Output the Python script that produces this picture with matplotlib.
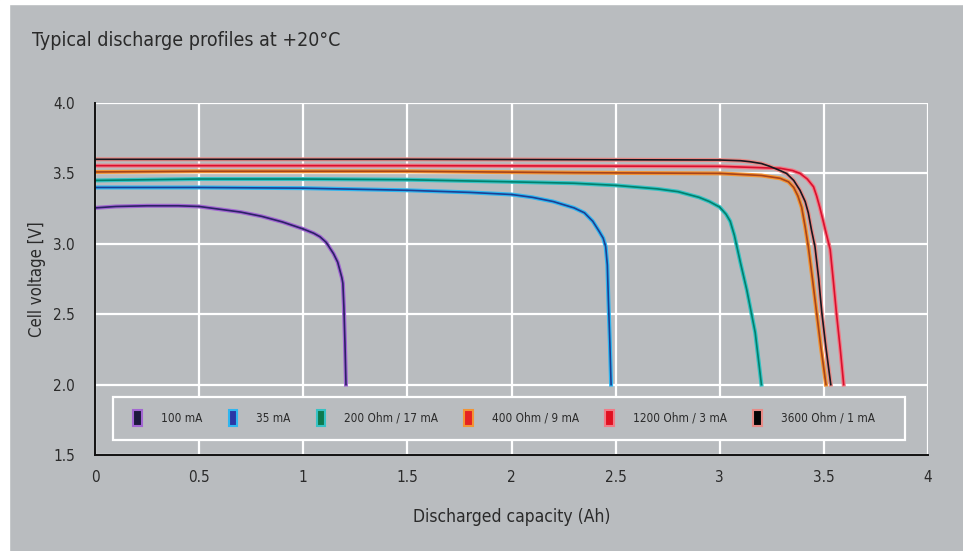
import numpy as np
import matplotlib
matplotlib.use("Agg")
import matplotlib.pyplot as plt
from matplotlib.patches import Rectangle

## discharge curves (capacity in Ah, voltage in V)
cap_100mA = [0, 0.1, 0.25, 0.4, 0.5, 0.6, 0.7, 0.8, 0.9, 1.0, 1.05, 1.08, 1.11, 1.145,
             1.165, 1.176, 1.185, 1.19, 1.195, 1.2, 1.205]
volt_100mA = [3.255, 3.265, 3.27, 3.27, 3.265, 3.245, 3.225, 3.195, 3.155, 3.105, 3.075,
              3.05, 3.01, 2.93, 2.87, 2.81, 2.76, 2.72, 2.55, 2.30, 2.00]

cap_35mA = [0, 0.5, 1.0, 1.5, 1.8, 2.0, 2.1, 2.2, 2.3, 2.35, 2.39, 2.42, 2.44, 2.452,
            2.46, 2.465, 2.472, 2.478]
volt_35mA = [3.40, 3.40, 3.395, 3.38, 3.365, 3.35, 3.33, 3.30, 3.255, 3.22, 3.16, 3.09,
             3.04, 2.98, 2.85, 2.60, 2.30, 2.00]

cap_200ohm = [0, 0.5, 1.0, 1.5, 2.0, 2.3, 2.5, 2.7, 2.8, 2.9, 2.95, 3.0, 3.03, 3.05,
              3.07, 3.1, 3.13, 3.17, 3.20]
volt_200ohm = [3.45, 3.46, 3.46, 3.455, 3.44, 3.43, 3.415, 3.39, 3.37, 3.33, 3.30, 3.26,
               3.21, 3.16, 3.06, 2.86, 2.67, 2.37, 2.00]

cap_400ohm = [0, 0.5, 1.5, 2.3, 3.0, 3.2, 3.29, 3.33, 3.355, 3.375, 3.393, 3.41, 3.425,
              3.445, 3.465, 3.485, 3.51]
volt_400ohm = [3.51, 3.515, 3.515, 3.505, 3.50, 3.485, 3.465, 3.44, 3.40, 3.34, 3.26,
               3.12, 2.98, 2.75, 2.51, 2.27, 2.00]

cap_1200ohm = [0, 1.5, 3.0, 3.29, 3.35, 3.385, 3.42, 3.45, 3.465, 3.48, 3.505, 3.53,
               3.545, 3.56, 3.578, 3.595]
volt_1200ohm = [3.555, 3.555, 3.55, 3.536, 3.52, 3.50, 3.46, 3.405, 3.34, 3.26, 3.11,
                2.96, 2.74, 2.51, 2.26, 2.00]

cap_3600ohm = [0, 1.5, 3.0, 3.1, 3.145, 3.2, 3.24, 3.29, 3.32, 3.355, 3.385, 3.41, 3.425,
               3.44, 3.457, 3.475, 3.49, 3.51, 3.533]
volt_3600ohm = [3.60, 3.60, 3.595, 3.59, 3.583, 3.57, 3.55, 3.52, 3.50, 3.45, 3.38, 3.30,
                3.22, 3.10, 2.98, 2.75, 2.51, 2.26, 2.00]

labels = ["100 mA", "35 mA", "200 Ohm / 17 mA", "400 Ohm / 9 mA", "1200 Ohm / 3 mA", "3600 Ohm / 1 mA"]
caps = [cap_100mA, cap_35mA, cap_200ohm, cap_400ohm, cap_1200ohm, cap_3600ohm]
volts = [volt_100mA, volt_35mA, volt_200ohm, volt_400ohm, volt_1200ohm, volt_3600ohm]

core_colors = ["#2b2166", "#1c3f93", "#00806c", "#a8441a", "#d8102e", "#17171f"]
glow_colors = ["#a266d2", "#2fb6f0", "#36c2c4", "#f39434", "#f27a86", "#e88a86"]
legend_fill = ["#1d1a3e", "#2a37a6", "#0d7a4e", "#e52222", "#e01020", "#050505"]

bg = "#b9bcbf"
txt = "#2a2a2a"

plt.rcParams["font.family"] = ["DejaVu Sans"]
plt.rcParams["font.stretch"] = "condensed"

fig = plt.figure(figsize=(9.63, 5.51), dpi=100, facecolor=bg)
ax = fig.add_axes([0.0987, 0.1742, 0.865, 0.6389])
ax.set_facecolor(bg)

# white strips at the image edges
fig.patches.append(Rectangle((0, 0), 0.009, 1, transform=fig.transFigure, color="white", zorder=-1))
fig.patches.append(Rectangle((0, 0.993), 1, 0.007, transform=fig.transFigure, color="white", zorder=-1))

for c, v, cc, gc in zip(caps, volts, core_colors, glow_colors):
    ax.plot(c, v, color=gc, lw=2.9, solid_joinstyle="round", zorder=3)
    ax.plot(c, v, color=cc, lw=1.2, solid_joinstyle="round", zorder=4)

ax.set_xlim(0, 4)
ax.set_ylim(1.5, 4.0)
ax.set_xticks(np.arange(0, 4.01, 0.5))
ax.set_xticklabels(["0", "0.5", "1", "1.5", "2", "2.5", "3", "3.5", "4"])
ax.set_yticks(np.arange(1.5, 4.01, 0.5))
ax.set_yticklabels(["%.1f" % t for t in np.arange(1.5, 4.01, 0.5)])
ax.grid(True, color="white", lw=1.6)
ax.set_axisbelow(True)
ax.tick_params(length=0, labelsize=11, colors=txt)
ax.tick_params(axis="y", pad=14.5)
ax.tick_params(axis="x", pad=11)
for s in ["top", "right"]:
    ax.spines[s].set_visible(False)
for s in ["left", "bottom"]:
    ax.spines[s].set_color("#111111")
    ax.spines[s].set_linewidth(1.4)
    ax.spines[s].set_zorder(5)

ax.set_xlabel("Discharged capacity (Ah)", fontsize=12.5, color=txt, labelpad=16)
ax.set_ylabel("Cell voltage [V]", fontsize=12, color=txt, labelpad=5)

fig.text(0.033, 0.927, "Typical discharge profiles at +20°C", fontsize=14, color=txt, va="center")

# legend box
ax.add_patch(Rectangle((0.0216, 0.043), 0.951, 0.122, transform=ax.transAxes,
                       facecolor=bg, edgecolor="white", lw=1.6, zorder=6))
handles = [Rectangle((0, 0), 1, 1, facecolor=f, edgecolor=g, lw=1.5) for f, g in zip(legend_fill, glow_colors)]
leg = ax.legend(handles, labels, ncol=6, loc="center", bbox_to_anchor=(0.491, 0.105),
                fontsize=8.5, handlelength=0.75, handleheight=1.6, handletextpad=1.6,
                columnspacing=2.2, frameon=False, labelcolor=txt)
leg.set_zorder(7)

fig.savefig("out.png", dpi=100, facecolor=bg)
